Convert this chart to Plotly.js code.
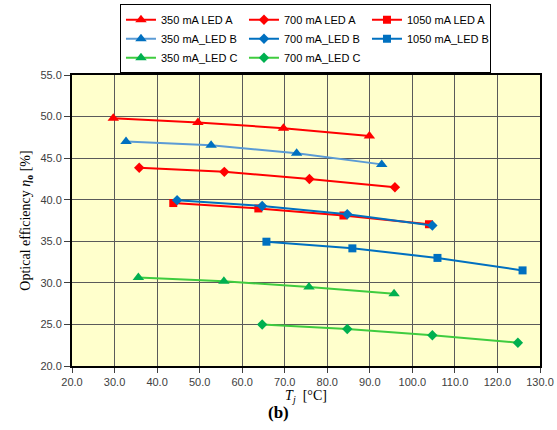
<!DOCTYPE html>
<html><head><meta charset="utf-8">
<script src="https://cdn.plot.ly/plotly-3.0.1.min.js"></script>
<style>body{margin:0;padding:0;background:#fff}#chart{width:557px;height:430px}</style>
</head><body><div id="chart"></div>
<script>
// Data
const names = ["350 mA LED A","700 mA LED A","1050 mA LED A","350 mA_LED B","700 mA_LED B","1050 mA_LED B","350 mA_LED C","700 mA_LED C"];
const x350A = [29.7, 49.6, 69.7, 89.9];
const y350A = [49.8, 49.3, 48.6, 47.65];
const x700A = [35.8, 55.8, 75.8, 95.9];
const y700A = [43.85, 43.35, 42.5, 41.5];
const x1050A = [43.8, 63.8, 83.8, 103.9];
const y1050A = [39.6, 38.95, 38.1, 37.05];
const x350B = [32.7, 52.7, 72.8, 92.8];
const y350B = [47.0, 46.55, 45.6, 44.25];
const x700B = [44.7, 64.7, 84.7, 104.7];
const y700B = [39.95, 39.25, 38.25, 36.9];
const x1050B = [65.7, 85.9, 105.9, 125.9];
const y1050B = [34.95, 34.15, 33.0, 31.5];
const x350C = [35.6, 55.7, 75.7, 95.7];
const y350C = [30.65, 30.2, 29.5, 28.7];
const x700C = [64.7, 84.7, 104.7, 124.8];
const y700C = [25.0, 24.45, 23.7, 22.8];
const xTicks = [20,30,40,50,60,70,80,90,100,110,120,130];
const yTicks = [20,25,30,35,40,45,50,55];

const RED = "#FF0000", BLUE = "#0070C0", LBLUE = "#5B9BD5", GREEN = "#00B050", LGREEN = "#3FCC3F";
function tr(name, x, y, line, mk, sym, size){
  return {type:"scatter", mode:"lines+markers", name:name, x:x, y:y,
    line:{color:line, width:2}, marker:{color:mk, symbol:sym, size:size}};
}
const data = [
  tr(names[0], x350A, y350A, RED, RED, "triangle-up", 10),
  tr(names[1], x700A, y700A, RED, RED, "diamond", 8),
  tr(names[2], x1050A, y1050A, RED, RED, "square", 8),
  tr(names[3], x350B, y350B, LBLUE, BLUE, "triangle-up", 10),
  tr(names[4], x700B, y700B, BLUE, BLUE, "diamond", 8),
  tr(names[5], x1050B, y1050B, BLUE, BLUE, "square", 8),
  tr(names[6], x350C, y350C, LGREEN, GREEN, "triangle-up", 10),
  tr(names[7], x700C, y700C, LGREEN, GREEN, "diamond", 8)
];
const tickFont = {family:"Liberation Sans, Arial, sans-serif", size:11, color:"#404040"};
const serif = "Liberation Serif, Times New Roman, serif";
const layout = {
  width:557, height:430,
  margin:{l:72, r:17, t:75, b:64, autoexpand:false},
  paper_bgcolor:"#FFFFFF", plot_bgcolor:"#FFFFCC",
  showlegend:true,
  legend:{orientation:"h", xref:"container", yref:"container", x:0.2154, xanchor:"left", y:0.99, yanchor:"top",
    bordercolor:"#000", borderwidth:1, bgcolor:"#FFFFFF",
    font:{family:"Liberation Sans, Arial, sans-serif", size:11, color:"#000"},
    entrywidth:78, entrywidthmode:"pixels", traceorder:"normal", itemwidth:30},
  xaxis:{range:[20,130], tickvals:xTicks, ticktext:xTicks.map(v=>v.toFixed(1)),
    showgrid:true, gridcolor:"#5a5a5a", gridwidth:1, zeroline:false,
    showline:true, linecolor:"#000", linewidth:2, mirror:true,
    ticks:"outside", ticklen:5, tickcolor:"#404040", tickfont:tickFont,
    title:{text:"<i>T</i><sub><i>j</i></sub>  [°C]", font:{family:serif, size:14, color:"#000"}, standoff:2}},
  yaxis:{range:[20,55], tickvals:yTicks, ticktext:yTicks.map(v=>v.toFixed(1)),
    showgrid:true, gridcolor:"#5a5a5a", gridwidth:1, zeroline:false,
    showline:true, linecolor:"#000", linewidth:2, mirror:true,
    ticks:"outside", ticklen:6, tickcolor:"#404040", tickfont:tickFont,
    title:{text:"Optical efficiency <i>η</i><sub><b>o</b></sub> [%]", font:{family:serif, size:14, color:"#000"}, standoff:6}},
  annotations:[{text:"<b>(b)</b>", xref:"paper", yref:"paper", x:0.441, y:-0.1615, yanchor:"middle",
    showarrow:false, font:{family:serif, size:17, color:"#000"}}]
};
Plotly.newPlot("chart", data, layout, {displayModeBar:false, staticPlot:true});
</script></body></html>
